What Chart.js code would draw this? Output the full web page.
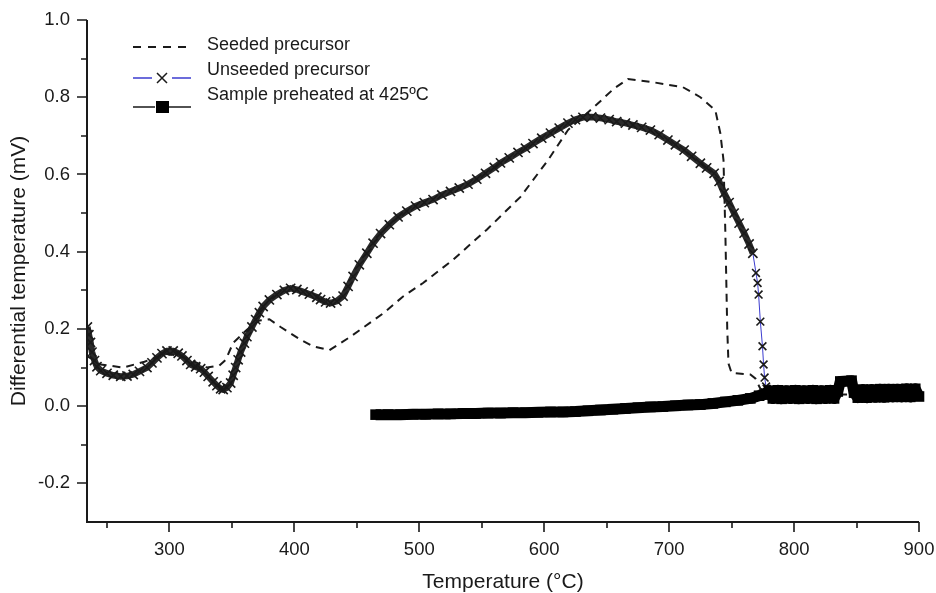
<!DOCTYPE html>
<html>
<head>
<meta charset="utf-8">
<script src="https://cdn.jsdelivr.net/npm/chart.js@4.4.1/dist/chart.umd.min.js"></script>
<style>
  html, body { margin: 0; padding: 0; background: #fff; }
  canvas { display: block; }
</style>
</head>
<body>
<canvas id="dta" width="936" height="593"></canvas>
<script>
// DTA curves

const seededTemp = [234, 245, 263, 280, 297, 310, 320, 330, 340, 345, 351, 362, 372, 380, 389, 405, 415, 428,
  445, 471, 487, 503, 527, 554, 581, 603, 619, 640, 656, 667, 685, 711, 725, 737, 741, 743.5, 745, 746.5,
  747.5, 750, 765, 769, 773, 790, 900];
const seededSignal = [0.13, 0.108, 0.10, 0.115, 0.135, 0.13, 0.115, 0.10, 0.105, 0.12, 0.164, 0.198, 0.222, 0.225,
  0.205, 0.172, 0.155, 0.145, 0.18, 0.24, 0.284, 0.319, 0.379, 0.457, 0.542, 0.637, 0.715, 0.775, 0.823, 0.847,
  0.84, 0.826, 0.80, 0.766, 0.706, 0.637, 0.448, 0.2, 0.11, 0.086, 0.082, 0.072, 0.045, 0.03, 0.03];

const unseededTemp = [234.3, 235.5, 236.8, 238, 240, 242, 245, 250, 255, 261, 266, 271, 276, 282, 286, 290, 294,
  298, 303, 307, 310, 314, 317, 321, 325, 328, 331, 335, 338, 341, 343, 346, 349, 351, 353, 355, 357, 360, 362,
  366, 369, 372, 375, 380, 386, 392, 397, 402, 407, 412, 418, 421, 425, 429, 434, 439, 443, 447, 452, 458, 463,
  469, 476, 483, 490, 497, 504, 511, 518, 525, 532, 539, 546, 553, 560, 565, 572, 579, 585, 591, 598, 605, 612,
  619, 625, 631, 638, 645, 652, 658, 665, 671, 678, 685, 692, 699, 705, 712, 718, 725, 730, 736, 740, 744, 748,
  752, 756, 760, 764, 767, 769.5, 770.8, 771.6, 773, 774.7, 775.6, 776.4, 777.6, 778];
const unseededSignal = [0.205, 0.185, 0.165, 0.14, 0.118, 0.102, 0.092, 0.085, 0.080, 0.077, 0.078, 0.082, 0.09,
  0.10, 0.112, 0.125, 0.136, 0.143, 0.143, 0.137, 0.13, 0.118, 0.108, 0.102, 0.097, 0.088, 0.077, 0.063, 0.053,
  0.045, 0.043, 0.048, 0.06, 0.08, 0.10, 0.12, 0.14, 0.163, 0.18, 0.205, 0.224, 0.242, 0.258, 0.275, 0.289, 0.300,
  0.305, 0.302, 0.296, 0.29, 0.282, 0.276, 0.27, 0.267, 0.272, 0.285, 0.31, 0.336, 0.366, 0.396, 0.422, 0.447,
  0.47, 0.49, 0.505, 0.518, 0.527, 0.535, 0.547, 0.556, 0.565, 0.575, 0.588, 0.603, 0.618, 0.63, 0.643, 0.657,
  0.668, 0.68, 0.694, 0.707, 0.72, 0.733, 0.742, 0.748, 0.749, 0.746, 0.742, 0.737, 0.733, 0.728, 0.722, 0.715,
  0.703, 0.689, 0.677, 0.663, 0.647, 0.629, 0.617, 0.603, 0.582, 0.552, 0.527, 0.50, 0.474, 0.448, 0.42, 0.396,
  0.345, 0.319, 0.289, 0.219, 0.155, 0.108, 0.074, 0.051, 0.045];

const preheatedTemp = [465, 475, 485, 495, 505, 515, 525, 535, 545, 555, 565, 575, 585, 595, 605, 615, 625, 635,
  645, 655, 665, 675, 685, 695, 705, 715, 725, 735, 745, 755, 765, 772, 776, 780, 783, 787, 790, 794, 797, 801,
  804, 808, 811, 815, 818, 822, 825, 829, 832, 835, 837, 846, 848, 851, 855, 858, 862, 865, 869, 872, 876, 879,
  883, 886, 890, 893, 897, 900, 903];
const preheatedSignal = [-0.022, -0.022, -0.022, -0.021, -0.021, -0.020, -0.020, -0.019, -0.019, -0.018, -0.018,
  -0.017, -0.017, -0.016, -0.015, -0.015, -0.014, -0.012, -0.010, -0.008, -0.006, -0.004, -0.002, -0.001, 0.001,
  0.003, 0.004, 0.007, 0.011, 0.015, 0.020, 0.027, 0.030, 0.040, 0.020, 0.041, 0.019, 0.040, 0.020, 0.041, 0.019,
  0.040, 0.020, 0.041, 0.019, 0.040, 0.020, 0.041, 0.020, 0.038, 0.064, 0.066, 0.035, 0.022, 0.043, 0.022, 0.043,
  0.023, 0.044, 0.023, 0.044, 0.024, 0.044, 0.024, 0.045, 0.024, 0.045, 0.025, 0.044];

const xLabelValues = [300, 400, 500, 600, 700, 800, 900];
const xTickValues = [250, 300, 350, 400, 450, 500, 550, 600, 650, 700, 750, 800, 850, 900];
const yLabelValues = [-0.2, 0, 0.2, 0.4, 0.6, 0.8, 1.0];
const yTickValues = [-0.2, -0.1, 0, 0.1, 0.2, 0.3, 0.4, 0.5, 0.6, 0.7, 0.8, 0.9, 1.0];

const legendNames = ['Seeded precursor', 'Unseeded precursor', 'Sample preheated at 425ºC'];

const FONT = "'Liberation Sans', Arial, Helvetica, sans-serif";
const INK = '#1a1a1a';
const BLUE = '#3c3ccf';
const DENSE_END = 767; // past this the x markers of the unseeded run are spread out

function pairs(xs, ys) {
    return xs.map((x, i) => ({ x: x, y: ys[i] }));
}

// axis lines + major/minor tick marks, pointing outward
const axisTicks = {
    id: 'axisTicks',
    afterDraw(chart) {
        const { ctx, chartArea: area } = chart;
        const xs = chart.scales.x, ys = chart.scales.y;
        ctx.save();
        ctx.strokeStyle = INK;
        ctx.lineWidth = 2;
        ctx.beginPath();
        ctx.moveTo(area.left, area.top);
        ctx.lineTo(area.left, area.bottom);
        ctx.lineTo(area.right, area.bottom);
        ctx.stroke();
        ctx.lineWidth = 1.6;
        ctx.beginPath();
        xTickValues.forEach(t => {
            const px = Math.round(xs.getPixelForValue(t));
            const len = t % 100 === 0 ? 10 : 6;
            ctx.moveTo(px, area.bottom);
            ctx.lineTo(px, area.bottom + len);
        });
        yTickValues.forEach(v => {
            const py = Math.round(ys.getPixelForValue(v));
            const major = Math.abs(Math.round(v * 10)) % 2 === 0;
            ctx.moveTo(area.left, py);
            ctx.lineTo(area.left - (major ? 10 : 6), py);
        });
        ctx.stroke();
        ctx.restore();
    }
};

// legend in the top left of the plot, like the original
const sketchLegend = {
    id: 'sketchLegend',
    afterDraw(chart) {
        const ctx = chart.ctx;
        ctx.save();
        ctx.font = '18px ' + FONT;
        ctx.fillStyle = INK;
        ctx.textBaseline = 'middle';
        ctx.textAlign = 'left';
        const textX = 207;
        const textY = [45, 70, 95];
        legendNames.forEach((name, i) => ctx.fillText(name, textX, textY[i]));

        // dashed sample
        ctx.strokeStyle = INK;
        ctx.lineWidth = 2;
        ctx.setLineDash([8, 7]);
        ctx.beginPath();
        ctx.moveTo(133, 47);
        ctx.lineTo(192, 47);
        ctx.stroke();
        ctx.setLineDash([]);

        // line with x marker
        ctx.strokeStyle = BLUE;
        ctx.lineWidth = 1.3;
        ctx.beginPath();
        ctx.moveTo(133, 78); ctx.lineTo(152, 78);
        ctx.moveTo(172, 78); ctx.lineTo(191, 78);
        ctx.stroke();
        ctx.strokeStyle = INK;
        ctx.lineWidth = 1.5;
        ctx.beginPath();
        ctx.moveTo(157, 73); ctx.lineTo(167, 83);
        ctx.moveTo(167, 73); ctx.lineTo(157, 83);
        ctx.stroke();

        // line with square marker
        ctx.lineWidth = 1.6;
        ctx.beginPath();
        ctx.moveTo(133, 107); ctx.lineTo(155, 107);
        ctx.moveTo(169, 107); ctx.lineTo(191, 107);
        ctx.stroke();
        ctx.fillStyle = '#000';
        ctx.fillRect(156, 101, 13, 12);
        ctx.restore();
    }
};

const ctx = document.getElementById('dta').getContext('2d');

new Chart(ctx, {
    type: 'scatter',
    data: {
        datasets: [
            {
                label: legendNames[2],
                data: pairs(preheatedTemp, preheatedSignal),
                showLine: true,
                borderColor: '#000',
                borderWidth: 11,
                borderJoinStyle: 'round',
                pointStyle: 'rect',
                pointRadius: 7.5,
                pointBackgroundColor: '#000',
                pointBorderWidth: 0,
                clip: false,
                order: 0
            },
            {
                label: legendNames[0],
                data: pairs(seededTemp, seededSignal),
                showLine: true,
                borderColor: INK,
                borderWidth: 2,
                borderDash: [8, 6],
                pointRadius: 0,
                order: 1
            },
            {
                label: legendNames[1],
                data: pairs(unseededTemp, unseededSignal),
                showLine: true,
                borderColor: BLUE,
                borderWidth: 1,
                segment: {
                    borderColor: c => c.p1.parsed.x <= DENSE_END ? '#2a2a2a' : BLUE,
                    borderWidth: c => c.p1.parsed.x <= DENSE_END ? 6.5 : 1
                },
                pointStyle: 'crossRot',
                pointRadius: c => (c.raw && c.raw.x <= DENSE_END) ? 6.5 : 5.5,
                pointBorderColor: INK,
                pointBorderWidth: 1.6,
                order: 2
            }
        ]
    },
    options: {
        responsive: false,
        animation: false,
        devicePixelRatio: 1,
        layout: { padding: { top: 20, right: 17, left: 0, bottom: 0 } },
        plugins: {
            legend: { display: false },
            tooltip: { enabled: false }
        },
        scales: {
            x: {
                type: 'linear',
                min: 234,
                max: 900,
                grid: { display: false, drawTicks: false },
                border: { display: false },
                afterBuildTicks: scale => { scale.ticks = xLabelValues.map(v => ({ value: v })); },
                afterFit: scale => {
                    scale.height = 71;
                    scale.paddingLeft = 0;
                    scale.paddingRight = 0;
                },
                ticks: {
                    color: INK,
                    font: { family: FONT, size: 18.5 },
                    padding: 17,
                    maxRotation: 0,
                    callback: v => String(v)
                },
                title: {
                    display: true,
                    text: 'Temperature (°C)',
                    color: INK,
                    font: { family: FONT, size: 21 },
                    padding: { top: 0, bottom: -2 }
                }
            },
            y: {
                type: 'linear',
                min: -0.3,
                max: 1.0,
                grid: { display: false, drawTicks: false },
                border: { display: false },
                afterBuildTicks: scale => { scale.ticks = yLabelValues.map(v => ({ value: v })); },
                afterFit: scale => {
                    scale.width = 87;
                    scale.paddingTop = 0;
                    scale.paddingBottom = 0;
                },
                ticks: {
                    color: INK,
                    font: { family: FONT, size: 18.5 },
                    padding: 17,
                    callback: v => Number(v).toFixed(1)
                },
                title: {
                    display: true,
                    text: 'Differential temperature (mV)',
                    color: INK,
                    font: { family: FONT, size: 21 },
                    padding: { top: 7, bottom: 0 }
                }
            }
        }
    },
    plugins: [axisTicks, sketchLegend]
});
</script>
</body>
</html>
